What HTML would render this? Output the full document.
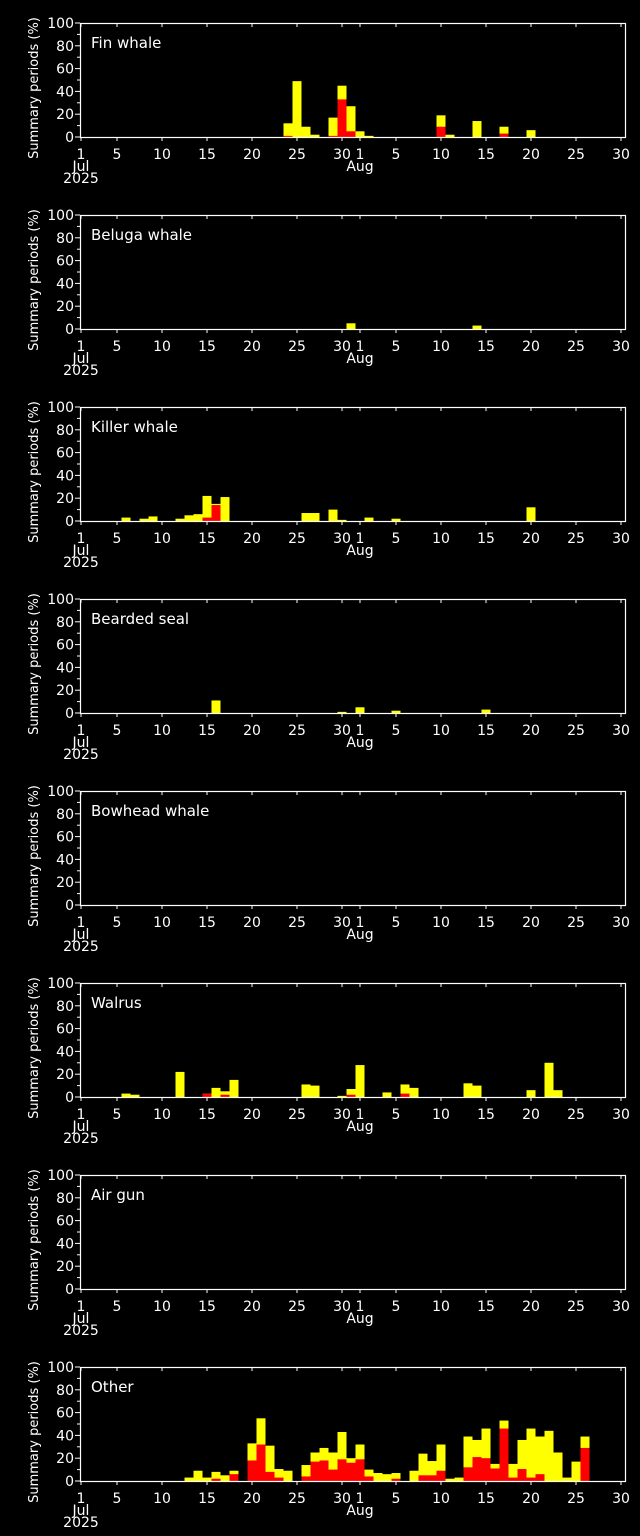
<!DOCTYPE html>
<html><head><meta charset="utf-8"><style>
html,body{margin:0;padding:0;background:#000;}
svg{display:block}
text{font-family:"DejaVu Sans","Liberation Sans",sans-serif;fill:#fff;font-size:14px}
</style></head><body>
<svg id="s" width="640" height="1536" xmlns="http://www.w3.org/2000/svg"></svg>
<script>
const panels=[
["Fin whale",{24:[12,1],25:[49,0],26:[9,0],27:[2,0],29:[17,1],30:[45,33],31:[27,5],32:[5,0],33:[1,0],41:[19,9],42:[2,0],45:[14,0],48:[9,3],51:[6,0]}],
["Beluga whale",{31:[5,0],45:[3,0]}],
["Killer whale",{6:[3,0],8:[2,0],9:[4,0],12:[2,0],13:[5,0],14:[6,0],15:[22,3],16:[15,14],17:[21,0],26:[7,0],27:[7,0],29:[10,0],30:[1,0],33:[3,0],36:[2,0],51:[12,0]}],
["Bearded seal",{16:[11,0],30:[1,0],32:[5,0],36:[2,0],46:[3,0]}],
["Bowhead whale",{}],
["Walrus",{6:[3,0],7:[2,0],12:[22,0],15:[3,3],16:[8,0],17:[5,2],18:[15,0],26:[11,0],27:[10,0],30:[1,0],31:[7,2],32:[28,0],35:[4,0],37:[11,3],38:[8,0],44:[12,0],45:[10,0],51:[6,0],53:[30,0],54:[6,0]}],
["Air gun",{}],
["Other",{13:[3,0],14:[9,0],15:[3,0],16:[8,2],17:[5,0],18:[9,6],20:[33,18],21:[55,32],22:[31,8],23:[10.5,3],24:[9,0],26:[14,4],27:[25,17],28:[29,18],29:[25,10],30:[43,19],31:[20,16],32:[32,19],33:[10,4],34:[7,0],35:[6,0],36:[7,2],38:[9,0],39:[24,5],40:[17.5,5],41:[32,9],42:[2,0],43:[3,0],44:[39,12],45:[36,21],46:[46,20],47:[15,11],48:[53,46],49:[15,3],50:[36,10.5],51:[46,3],52:[39,6],53:[44,0],54:[25,0],55:[3,0],56:[17,0],57:[39,29]}]
];
let h='';
const X=d=>81+(d-1)*9, S=1.14;
panels.forEach((p,i)=>{
 const o=192*i, base=137+o, top=23+o;
 for(const k in p[1]){const [y,r]=p[1][k];const x=X(+k)-4.5;
  h+=`<rect x="${x}" y="${base-y*S}" width="9" height="${y*S}" fill="#ff0"/>`;
  if(r>0)h+=`<rect x="${x}" y="${base-r*S}" width="9" height="${r*S}" fill="#f00"/>`;}
 h+=`<rect x="80.5" y="${top+.5}" width="545" height="${base-top}" fill="none" stroke="#fff" stroke-width="1.2"/>`;
 for(let v=0;v<=100;v+=10){const y=base-v*S;const L=v%20==0?5:3;
  h+=`<line x1="${80-L}" y1="${y}" x2="80" y2="${y}" stroke="#fff"/>`;
  if(v%20==0)h+=`<text x="74" y="${y+5}" text-anchor="end">${v}</text>`;}
 const days=[[1,'1'],[5,'5'],[10,'10'],[15,'15'],[20,'20'],[25,'25'],[30,'30'],[32,'1'],[36,'5'],[41,'10'],[46,'15'],[51,'20'],[56,'25'],[61,'30']];
 days.forEach(([d,t])=>{const x=X(d);
  h+=`<line x1="${x}" y1="${base}" x2="${x}" y2="${base+4}" stroke="#fff"/><line x1="${x}" y1="${top}" x2="${x}" y2="${top+4}" stroke="#fff"/>`;
  h+=`<text x="${x}" y="${base+22}" text-anchor="middle">${t}</text>`;});
 h+=`<text x="81" y="${base+34}" text-anchor="middle">Jul</text><text x="81" y="${base+46}" text-anchor="middle">2025</text>`;
 h+=`<text x="360" y="${base+34}" text-anchor="middle">Aug</text>`;
 h+=`<text x="91" y="${top+25}" style="font-size:15px">${p[0]}</text>`;
 h+=`<text transform="translate(38,${o+88}) rotate(-90)" text-anchor="middle" style="font-size:13px">Summary periods (%)</text>`;
});
document.getElementById('s').innerHTML=h;
</script>
</body></html>
